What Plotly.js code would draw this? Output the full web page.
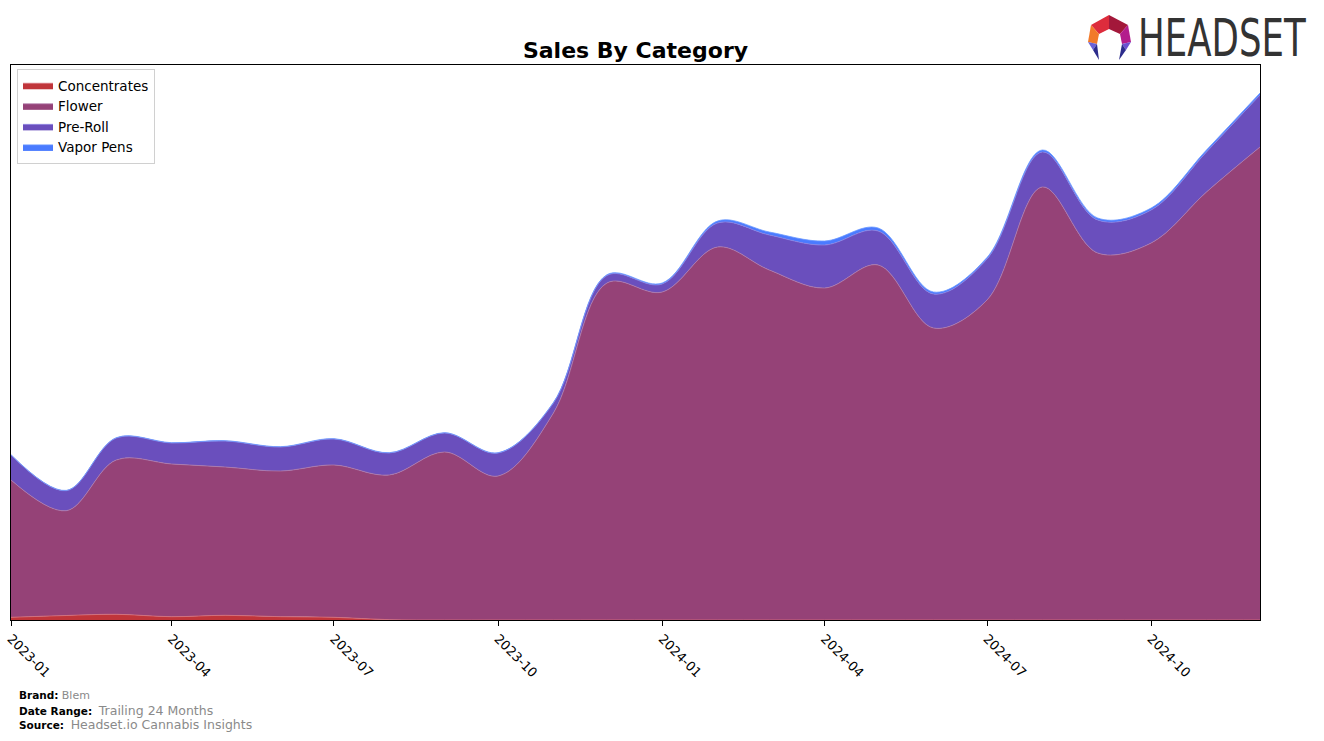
<!DOCTYPE html>
<html>
<head>
<meta charset="utf-8">
<script src="https://cdn.plot.ly/plotly-3.0.1.min.js"></script>
<style>
  html, body { margin: 0; padding: 0; background: #fff; }
  #chart { width: 1324px; height: 741px; }
</style>
</head>
<body>
<div id="chart"></div>
<script>
// ---- Data (values in thousands) ----
const months = [
  '2023-01-01','2023-02-01','2023-03-01','2023-04-01','2023-05-01','2023-06-01',
  '2023-07-01','2023-08-01','2023-09-01','2023-10-01','2023-11-01','2023-12-01',
  '2024-01-01','2024-02-01','2024-03-01','2024-04-01','2024-05-01','2024-06-01',
  '2024-07-01','2024-08-01','2024-09-01','2024-10-01','2024-11-01','2024-12-01'
];
const concentrates = [2.7, 4.5, 5.7, 3.3, 4.7, 3.3, 2.7, 0.3, 0, 0, 0, 0,
                      0, 0, 0, 0, 0, 0, 0, 0, 0, 0, 0, 0];
const flower = [137.3, 104.8, 154.3, 152.7, 148.3, 145.7, 152.3, 144.7, 168, 144, 207, 337,
                328, 373, 350, 332, 355, 292, 320, 433, 367, 377, 428, 473];
const preRoll = [25, 20, 22, 21, 26, 24, 26, 22, 19, 23, 10, 7.5,
                 8, 24, 35, 43, 34, 34, 41, 35, 33, 33, 40, 52];
const vaporPens = [0.3, 0.3, 0.3, 0.3, 0.3, 0.3, 0.3, 0.3, 0.3, 0.3, 0.5, 0.8,
                   1, 2, 3, 4, 3, 2, 1.5, 2, 2, 2, 2, 2];
const tickDates = ['2023-01-01','2023-04-01','2023-07-01','2023-10-01',
                   '2024-01-01','2024-04-01','2024-07-01','2024-10-01'];
const tickLabels = ['2023-01','2023-04','2023-07','2023-10',
                    '2024-01','2024-04','2024-07','2024-10'];

// ---- Layout geometry helpers (pixel -> paper) ----
const W = 1324, H = 741;
const M = { l: 11, r: 64, t: 65, b: 121 };
const PW = W - M.l - M.r, PH = H - M.t - M.b;
const px = x => (x - M.l) / PW;
const py = y => (H - M.b - y) / PH;
function poly(pts) {
  return 'M ' + pts.map(p => px(p[0]).toFixed(5) + ',' + py(p[1]).toFixed(5)).join(' L ') + ' Z';
}

const series = [
  { name: 'Concentrates', y: concentrates, color: '#c0353a', edge: '#d8707a' },
  { name: 'Flower',       y: flower,       color: '#954277', edge: '#b07aa8' },
  { name: 'Pre-Roll',     y: preRoll,      color: '#6a4fbd', edge: '#8a80e0' },
  { name: 'Vapor Pens',   y: vaporPens,    color: '#4a7bff', edge: '#6a98ff' }
];

const traces = series.map(s => ({
  type: 'scatter',
  mode: 'lines',
  name: s.name,
  x: months,
  y: s.y,
  stackgroup: 'one',
  line: { shape: 'spline', smoothing: 1, width: 0.8, color: s.edge },
  fillcolor: s.color,
  hoverinfo: 'x+y+name'
}));

const iconFacets = [
  { pts: [[1091,25],[1109,15],[1109,29],[1099,34]], c: '#dd2c3c' },
  { pts: [[1109,15],[1128,25],[1120,34],[1109,29]], c: '#a3183a' },
  { pts: [[1091,25],[1099,34],[1097,44],[1088,42]], c: '#f27a2a' },
  { pts: [[1128,25],[1131,42],[1122,44],[1120,34]], c: '#b31d8c' },
  { pts: [[1088,42],[1097,44],[1093,50]], c: '#6a62d8' },
  { pts: [[1093,50],[1097,44],[1099,60]], c: '#2c2c8c' },
  { pts: [[1131,42],[1122,44],[1126,50]], c: '#6a52d0' },
  { pts: [[1126,50],[1122,44],[1119,60]], c: '#2c2c8c' }
];
const shapes = iconFacets.map(f => ({
  type: 'path', xref: 'paper', yref: 'paper', path: poly(f.pts),
  fillcolor: f.c, line: { width: 0 }, layer: 'above'
}));

const footFont = { family: 'DejaVu Sans', size: 10.5, color: '#000' };
const annotations = [
  { text: '<b>Brand:</b> <span style="color:#8a8a8a;font-size:11px">Blem</span>', y: 695 },
  { text: '<b>Date Range:</b>  <span style="color:#8a8a8a;font-size:12.5px">Trailing 24 Months</span>', y: 710 },
  { text: '<b>Source:</b>  <span style="color:#8a8a8a;font-size:12.5px">Headset.io Cannabis Insights</span>', y: 724 }
].map(a => ({
  xref: 'paper', yref: 'paper', x: px(17), y: py(a.y),
  xanchor: 'left', yanchor: 'middle', showarrow: false,
  text: a.text, font: footFont, align: 'left'
}));
// logo wordmark: anchored at its right edge, then narrowed after drawing
const LOGO_LEFT = 1140, LOGO_RIGHT = 1308;
annotations.push({
  xref: 'paper', yref: 'paper', x: px(LOGO_RIGHT), y: py(38),
  xanchor: 'right', yanchor: 'middle', showarrow: false,
  text: 'HEADSET',
  font: { family: 'DejaVu Sans Condensed, DejaVu Sans', size: 52, color: '#333333' }
});

const layout = {
  width: W, height: H,
  margin: M,
  paper_bgcolor: '#ffffff',
  plot_bgcolor: '#ffffff',
  font: { family: 'DejaVu Sans', size: 13, color: '#000' },
  title: {
    text: '<b>Sales By Category</b>',
    font: { family: 'DejaVu Sans', size: 22, color: '#000' },
    xref: 'container', x: 635.5 / W, xanchor: 'center',
    y: 1 - 50 / H, yanchor: 'middle'
  },
  showlegend: true,
  legend: {
    x: px(17), y: py(69), xanchor: 'left', yanchor: 'top',
    bgcolor: '#ffffff', bordercolor: '#d0d0d0', borderwidth: 1,
    font: { family: 'DejaVu Sans', size: 13.5, color: '#000' },
    traceorder: 'normal'
  },
  xaxis: {
    type: 'date',
    range: ['2023-01-01', '2024-12-01'],
    tickvals: tickDates,
    ticktext: tickLabels,
    tickangle: 45,
    ticks: 'outside', ticklen: 5, tickwidth: 1, tickcolor: '#000',
    showgrid: false, zeroline: false,
    showline: true, linecolor: '#000', linewidth: 1, mirror: true,
    tickfont: { family: 'DejaVu Sans', size: 13, color: '#000' }
  },
  yaxis: {
    range: [0, 555],
    showticklabels: false, ticks: '',
    showgrid: false, zeroline: false,
    showline: true, linecolor: '#000', linewidth: 1, mirror: true
  },
  shapes: shapes,
  annotations: annotations
};

Plotly.newPlot('chart', traces, layout, { displayModeBar: false, staticPlot: true }).then(() => {
  document.querySelectorAll('.annotation-text').forEach(t => {
    if (t.textContent === 'HEADSET') {
      const bb = t.getBBox();
      const s = (LOGO_RIGHT - LOGO_LEFT) / bb.width;
      const R = bb.x + bb.width;
      const prev = t.getAttribute('transform') || '';
      t.setAttribute('transform',
        (prev + ' translate(' + R + ',0) scale(' + s.toFixed(4) + ',1) translate(' + (-R) + ',0)').trim());
    }
  });
});
</script>
</body>
</html>
